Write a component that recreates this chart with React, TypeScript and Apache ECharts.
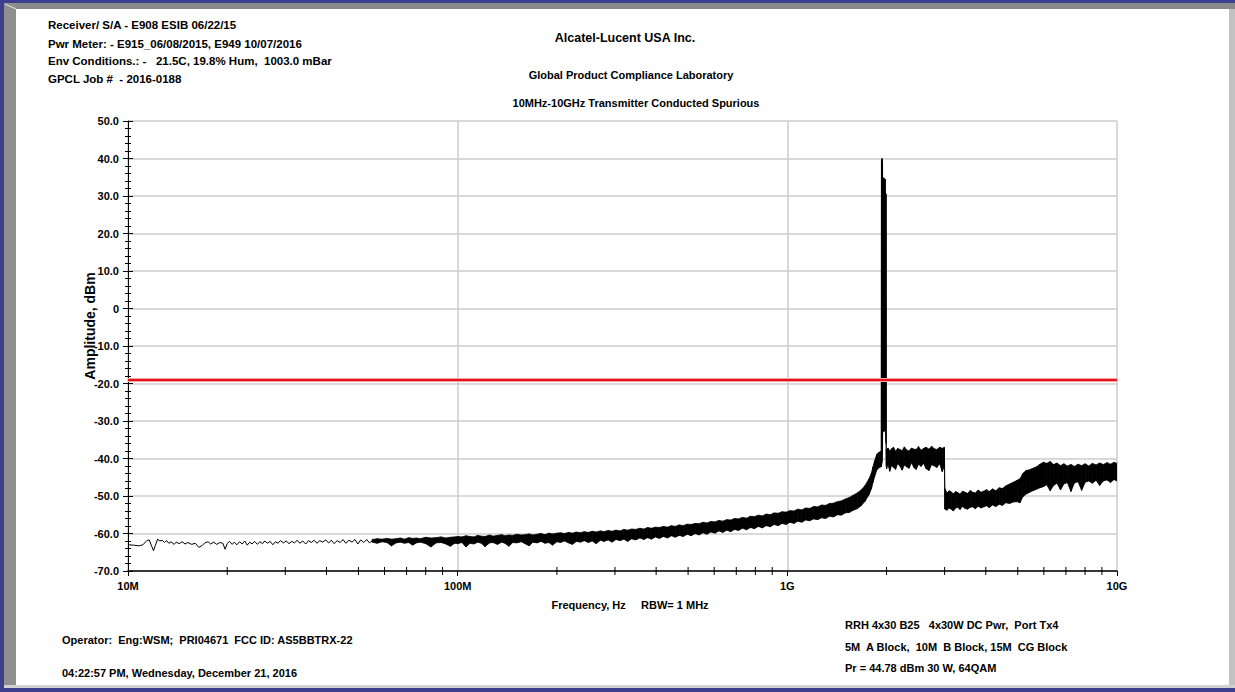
import React, { useEffect, useRef } from "react";
import * as echarts from "echarts";

const FONT = '"Liberation Sans Narrow", "Arial Narrow", "Liberation Sans", Arial, sans-serif';

// ---- axis ticks ----
const xTickValues = [1e7, 1e8, 1e9, 1e10];
const xTickLabels = ["10M", "100M", "1G", "10G"];
const xMinorTicksMHz = [
  20, 30, 40, 50, 60, 70, 80, 90,
  200, 300, 400, 500, 600, 700, 800, 900,
  2000, 3000, 4000, 5000, 6000, 7000, 8000, 9000,
];
const yMin = -70;
const yMax = 50;
const yStep = 10;
const yTickLabels = [
  "-70.0", "-60.0", "-50.0", "-40.0", "-30.0", "-20.0", "-10.0",
  "0", "10.0", "20.0", "30.0", "40.0", "50.0",
];

// ---- limit line (dBm) ----
const limitLine = -19;

// ---- low frequency trace: [MHz, dBm] ----
const lowTrace: number[][] = [
  [10, -63.0], [10.4, -63.1], [10.8, -63.3], [11.1, -63.0], [11.4, -61.9], [11.6, -61.7],
  [11.8, -63.4], [11.95, -64.6], [12.1, -63.2], [12.3, -61.5], [12.5, -62.0], [12.7, -61.8],
  [12.9, -62.4], [13.1, -61.9], [13.3, -62.6], [13.5, -62.2], [13.8, -62.9], [14.0, -62.3],
  [14.3, -62.7], [14.6, -62.2], [14.9, -62.8], [15.2, -62.4], [15.6, -62.9], [16.0, -62.6],
  [16.4, -63.7], [16.8, -63.2], [17.1, -62.5], [17.5, -62.2], [17.8, -62.8], [18.2, -62.3],
  [18.6, -62.9], [19.0, -62.4], [19.4, -62.6], [19.7, -64.2], [20.0, -62.7], [20.3, -62.1],
  [20.7, -62.9], [21.0, -62.3], [21.4, -63.0], [21.8, -62.2], [22.2, -62.8], [22.6, -62.0],
  [23.0, -63.1], [23.4, -62.3], [23.8, -62.8], [24.2, -62.1], [24.7, -62.9], [25.1, -62.2],
  [25.6, -62.7], [26.0, -62.0], [26.5, -62.6], [27.0, -62.1], [27.5, -63.0], [28.0, -62.2],
  [28.5, -62.6], [29.0, -61.9], [29.6, -62.5], [30.2, -62.0], [30.8, -62.7], [31.4, -62.1],
  [32.0, -62.5], [32.6, -61.8], [33.2, -62.6], [33.9, -62.0], [34.6, -62.8], [35.3, -61.9],
  [36.0, -62.4], [36.7, -61.8], [37.4, -62.6], [38.2, -61.9], [39.0, -62.3], [39.8, -61.7],
  [40.6, -62.5], [41.4, -61.8], [42.2, -62.7], [43.1, -61.9], [44.0, -62.4], [44.9, -61.6],
  [45.8, -62.6], [46.8, -61.8], [47.8, -62.3], [48.8, -61.6], [49.8, -62.8], [50.8, -61.7],
  [51.9, -62.4], [53.0, -61.6], [54.0, -62.5], [55.0, -62.0],
];

// ---- noise band envelope: [MHz, low dBm, high dBm] ----
const bandRows: number[][] = [
  [55, -62.3, -61.6], [57, -62.6, -61.4], [59, -62.2, -61.5], [61, -62.4, -61.3], [63, -63.3, -61.5],
  [65, -62.5, -61.4], [67, -62.3, -61.2], [69, -62.6, -61.5], [71, -62.4, -61.1], [73, -63.1, -61.3],
  [75, -62.5, -61.2], [77, -62.3, -61.4], [80, -62.7, -61.0], [83, -63.6, -61.2], [86, -62.5, -61.1],
  [89, -62.4, -60.9], [92, -62.8, -61.2], [95, -63.4, -61.0], [98, -62.6, -60.9],
  [100, -62.7, -60.8], [103, -62.4, -60.9], [106, -63.6, -60.6], [109, -62.6, -60.8], [112, -62.8, -60.9],
  [115, -62.3, -60.5], [118, -62.6, -60.7], [121, -63.5, -60.8], [125, -62.5, -60.4], [128, -62.4, -60.7],
  [132, -62.9, -60.5], [136, -62.3, -60.3], [139, -62.6, -60.6], [143, -63.4, -60.4], [147, -62.4, -60.5],
  [151, -62.5, -60.2], [156, -62.2, -60.4], [160, -62.7, -60.3], [165, -63.3, -60.1], [169, -62.3, -60.4],
  [174, -62.5, -60.2], [179, -62.1, -60.0], [184, -62.6, -60.3], [189, -62.4, -59.9], [194, -63.1, -60.1],
  [200, -62.2, -59.9], [205, -62.4, -59.8], [211, -62.0, -60.0], [217, -62.5, -59.7], [223, -62.9, -59.9],
  [229, -62.1, -59.6], [236, -62.3, -59.8], [242, -61.9, -59.5], [249, -62.4, -59.7], [256, -62.0, -59.4],
  [263, -62.7, -59.6], [271, -61.8, -59.3], [278, -62.1, -59.5], [286, -61.7, -59.2], [294, -62.3, -59.4],
  [302, -61.6, -59.1], [311, -61.9, -59.3], [319, -61.5, -58.9], [328, -62.1, -59.1], [337, -61.4, -58.8],
  [347, -61.7, -58.9], [357, -61.2, -58.6], [367, -61.6, -58.8], [377, -61.1, -58.4], [387, -61.5, -58.6],
  [398, -60.9, -58.3], [409, -61.3, -58.4], [421, -60.8, -58.1], [433, -61.2, -58.3], [445, -60.6, -57.9],
  [457, -61.0, -58.1], [470, -60.5, -57.7], [483, -60.8, -57.9], [497, -60.2, -57.5], [511, -60.6, -57.6],
  [525, -60.0, -57.3], [540, -60.4, -57.4], [555, -59.8, -57.0], [570, -60.2, -57.2], [586, -59.6, -56.8],
  [603, -59.9, -56.9], [620, -59.3, -56.5], [637, -59.7, -56.7], [655, -59.1, -56.3], [673, -59.5, -56.4],
  [692, -58.9, -56.0], [711, -59.2, -56.1], [731, -58.6, -55.7], [752, -59.0, -55.9], [773, -58.4, -55.4],
  [794, -58.7, -55.5], [817, -58.1, -55.1], [840, -58.5, -55.3], [863, -57.9, -54.8], [887, -58.2, -55.0],
  [912, -57.6, -54.5], [938, -57.9, -54.6], [964, -57.3, -54.2], [991, -57.6, -54.3], [1019, -57.0, -53.9],
  [1047, -57.3, -54.0], [1076, -56.7, -53.5], [1106, -57.0, -53.7], [1137, -56.4, -53.2], [1169, -56.6, -53.3],
  [1202, -56.1, -52.8], [1236, -56.3, -52.9], [1270, -55.8, -52.4], [1306, -56.0, -52.5], [1342, -55.4, -52.0],
  [1380, -55.6, -51.9], [1419, -55.0, -51.5], [1458, -55.1, -51.3], [1499, -54.5, -50.8], [1541, -54.4, -50.4],
  [1584, -53.8, -49.8], [1629, -53.4, -49.2], [1674, -52.6, -48.4], [1721, -51.4, -47.2], [1770, -49.6, -45.4],
  [1800, -48.0, -43.8], [1819, -46.4, -42.2], [1840, -44.8, -40.6], [1870, -43.0, -38.8], [1900, -42.4, -38.3],
  [1926, -42.2, -38.0],
  [1930, -42.0, 39.5], [1938, -41.0, 40.0], [1944, -38.0, 39.0], [1946, -33.0, 35.0], [1980, -32.5, 34.5],
  [1984, -33.0, 31.0], [1993, -36.0, 30.5], [1996, -42.0, -37.5],
  [2000, -42.8, -37.8], [2020, -41.6, -37.2], [2045, -43.4, -38.0], [2070, -41.9, -37.4], [2100, -42.3, -37.0],
  [2130, -42.9, -38.1], [2160, -41.4, -37.3], [2195, -42.0, -37.6], [2230, -43.1, -37.9], [2265, -41.7, -36.9],
  [2300, -42.2, -37.7], [2340, -42.6, -38.0], [2380, -41.1, -37.2], [2420, -42.4, -37.5], [2460, -42.9, -37.6],
  [2500, -41.5, -36.8], [2545, -42.1, -37.8], [2590, -41.3, -37.3], [2635, -42.7, -37.0], [2690, -43.2, -37.5],
  [2740, -41.6, -36.7], [2790, -42.0, -37.4], [2840, -42.4, -37.6], [2900, -41.4, -37.0], [2950, -43.5, -37.3],
  [2995, -42.0, -37.0],
  [3005, -53.5, -48.0], [3050, -53.8, -49.2], [3095, -53.2, -48.6], [3140, -53.5, -48.9], [3190, -54.0, -49.4],
  [3240, -53.2, -48.8], [3290, -53.0, -49.1], [3340, -53.6, -49.5], [3400, -52.8, -48.7], [3460, -53.3, -49.0],
  [3520, -53.5, -49.3], [3590, -53.0, -48.5], [3650, -52.9, -49.0], [3720, -53.4, -49.2], [3790, -52.7, -48.4],
  [3870, -53.2, -49.0], [3940, -52.9, -48.7], [4020, -52.6, -48.3], [4100, -53.1, -48.8], [4190, -52.4, -48.1],
  [4290, -52.8, -48.6], [4390, -52.2, -47.8], [4490, -52.5, -48.0], [4600, -51.8, -47.3], [4720, -52.0, -46.8],
  [4850, -51.6, -46.3], [4980, -51.5, -45.8], [5080, -51.8, -45.4], [5180, -50.2, -44.0], [5300, -49.5, -43.2],
  [5430, -49.0, -43.0], [5560, -48.6, -42.6], [5700, -48.2, -42.2], [5840, -47.8, -41.5], [5980, -47.5, -41.0],
  [6120, -47.0, -41.3], [6270, -48.6, -40.8], [6420, -47.2, -41.6], [6580, -46.6, -41.2], [6740, -48.4, -41.9],
  [6900, -46.8, -41.4], [7070, -46.4, -42.0], [7250, -48.8, -41.6], [7430, -46.5, -42.1], [7620, -46.2, -41.5],
  [7810, -48.5, -41.9], [8010, -46.3, -41.4], [8210, -46.0, -42.0], [8420, -46.6, -41.3], [8640, -45.8, -41.7],
  [8860, -47.2, -41.2], [9090, -46.0, -41.6], [9320, -45.7, -41.1], [9560, -46.4, -41.5], [9800, -45.6, -41.0],
  [10000, -46.0, -41.3],
];

// ---- texts ----
const headerLines = [
  "Receiver/ S/A - E908 ESIB 06/22/15",
  "Pwr Meter: - E915_06/08/2015, E949 10/07/2016",
  "Env Conditions.: -   21.5C, 19.8% Hum,  1003.0 mBar",
  "GPCL Job #  - 2016-0188",
];
const titleLines = [
  "Alcatel-Lucent USA Inc.",
  "Global Product Compliance Laboratory",
  "10MHz-10GHz Transmitter Conducted Spurious",
];
const yAxisTitle = "Amplitude, dBm";
const xAxisTitle = "Frequency, Hz     RBW= 1 MHz";
const footerLeft = [
  "Operator:  Eng:WSM;  PRI04671  FCC ID: AS5BBTRX-22",
  "04:22:57 PM, Wednesday, December 21, 2016",
];
const footerRight = [
  "RRH 4x30 B25   4x30W DC Pwr,  Port Tx4",
  "5M  A Block,  10M  B Block, 15M  CG Block",
  "Pr = 44.78 dBm 30 W, 64QAM",
];

const txt = (x: number, y: number, text: string, size: number, align = "left") => ({
  type: "text",
  x,
  y,
  silent: true,
  style: {
    text,
    fontSize: size,
    fontWeight: "bold",
    fontFamily: FONT,
    fill: "#000",
    align,
    textAlign: align,
    verticalAlign: "middle",
    textVerticalAlign: "middle",
  },
});

export default function App() {
  const ref = useRef<HTMLDivElement>(null);
  useEffect(() => {
    document.body.style.margin = "0";
    if (!ref.current) return;
    const chart = echarts.init(ref.current, null, { renderer: "svg" });

    const axisLabelFont = { fontSize: 11, fontWeight: "bold", fontFamily: FONT, color: "#000" };
    const gridColor = "#cccccc";

    const option: any = {
      animation: false,
      backgroundColor: "#ffffff",
      grid: { left: 128, top: 121, width: 989, height: 450, containLabel: false },
      xAxis: [
        {
          type: "log",
          logBase: 10,
          min: 1e7,
          max: 1e10,
          axisLine: { show: true, onZero: false, lineStyle: { color: "#000", width: 1.5 } },
          axisTick: { show: true, length: 5, lineStyle: { color: "#000", width: 1 } },
          axisLabel: {
            ...axisLabelFont,
            margin: 9,
            formatter: (v: number) => {
              const i = xTickValues.findIndex((t) => Math.abs(Math.log10(t) - Math.log10(v)) < 1e-6);
              return i >= 0 ? xTickLabels[i] : "";
            },
          },
          splitLine: { show: true, lineStyle: { color: gridColor, width: 1.5 } },
        },
      ],
      yAxis: [
        {
          type: "value",
          min: yMin,
          max: yMax,
          interval: yStep,
          axisLine: { show: true, onZero: false, lineStyle: { color: "#000", width: 1 } },
          axisTick: { show: true, length: 5, lineStyle: { color: "#000", width: 1 } },
          minorTick: { show: true, splitNumber: 5, length: 3, lineStyle: { color: "#000", width: 1 } },
          axisLabel: {
            ...axisLabelFont,
            margin: 9,
            formatter: (v: number) => yTickLabels[Math.round((v - yMin) / yStep)] ?? "",
          },
          splitLine: { show: true, lineStyle: { color: gridColor, width: 1.5 } },
        },
        {
          type: "value",
          min: yMin,
          max: yMax,
          interval: yStep,
          position: "left",
          axisLine: { show: false },
          axisTick: { show: true, inside: true, length: 5, lineStyle: { color: "#000", width: 1 } },
          minorTick: { show: true, splitNumber: 5, length: 3, lineStyle: { color: "#000", width: 1 } },
          axisLabel: { show: false },
          splitLine: { show: false },
        },
      ],
      series: [
        {
          type: "line",
          name: "trace",
          data: lowTrace.map((p) => [p[0] * 1e6, p[1]]),
          showSymbol: false,
          symbol: "none",
          lineStyle: { color: "#000", width: 1 },
          silent: true,
          z: 2,
          markLine: {
            silent: true,
            symbol: ["none", "none"],
            label: { show: false },
            data: [
              { yAxis: limitLine, lineStyle: { color: "#f3a3a3", width: 4, type: "solid" } },
              { yAxis: limitLine, lineStyle: { color: "#e8101a", width: 2, type: "solid" } },
            ],
          },
        },
        {
          type: "custom",
          name: "band",
          silent: true,
          z: 3,
          clip: true,
          data: bandRows.map((r) => [r[0] * 1e6, r[1], r[2]]),
          encode: { x: 0, y: [1, 2] },
          renderItem: (params: any, api: any) => {
            const i = params.dataIndex;
            if (i >= bandRows.length - 1) return null;
            const a = bandRows[i];
            const b = bandRows[i + 1];
            const p1 = api.coord([a[0] * 1e6, a[2]]);
            const p2 = api.coord([b[0] * 1e6, b[2]]);
            const p3 = api.coord([b[0] * 1e6, b[1]]);
            const p4 = api.coord([a[0] * 1e6, a[1]]);
            return {
              type: "polygon",
              shape: { points: [p1, p2, p3, p4] },
              style: { fill: "#000", stroke: "#000", lineWidth: 0.8 },
            };
          },
        },
        {
          type: "custom",
          name: "minorTicks",
          silent: true,
          z: 4,
          clip: false,
          data: xMinorTicksMHz.map((f) => [f * 1e6, yMin]),
          encode: { x: 0, y: 1 },
          renderItem: (params: any, api: any) => {
            const p = api.coord([api.value(0), yMin]);
            return {
              type: "line",
              shape: { x1: p[0], y1: p[1] - 4, x2: p[0], y2: p[1] + 4 },
              style: { stroke: "#000", lineWidth: 1 },
            };
          },
        },
      ],
      graphic: [
        // frame
        { type: "rect", silent: true, shape: { x: 0, y: 0, width: 1235, height: 3 }, style: { fill: "#3d3f8e" } },
        { type: "rect", silent: true, shape: { x: 0, y: 0, width: 4, height: 692 }, style: { fill: "#3d3f8e" } },
        { type: "rect", silent: true, shape: { x: 0, y: 688, width: 1235, height: 4 }, style: { fill: "#3d3f8e" } },
        { type: "rect", silent: true, shape: { x: 4, y: 3, width: 1231, height: 6 }, style: { fill: "#8a8a8a" } },
        { type: "rect", silent: true, shape: { x: 4, y: 3, width: 12, height: 683 }, style: { fill: "#8f8f8f" } },
        { type: "rect", silent: true, shape: { x: 1229, y: 9, width: 6, height: 677 }, style: { fill: "#c2c2c2" } },
        { type: "rect", silent: true, shape: { x: 4, y: 685, width: 1231, height: 3 }, style: { fill: "#d2d2d2" } },
        { type: "line", silent: true, shape: { x1: 5, y1: 4, x2: 16, y2: 9 }, style: { stroke: "#e6e6e6", lineWidth: 1 } },
        // header
        ...headerLines.map((t, i) => txt(48, [25, 43.5, 61, 79][i], t, 11.5)),
        txt(625, 38, titleLines[0], 12.5, "center"),
        txt(631, 75, titleLines[1], 11, "center"),
        txt(636, 103, titleLines[2], 11, "center"),
        // axis titles
        {
          ...txt(90, 326, yAxisTitle, 14, "center"),
          rotation: Math.PI / 2,
        },
        txt(630, 605, xAxisTitle, 11, "center"),
        // footers
        txt(62, 640, footerLeft[0], 11),
        txt(62, 673, footerLeft[1], 11),
        txt(845, 625, footerRight[0], 11),
        txt(845, 647, footerRight[1], 11),
        txt(845, 668, footerRight[2], 11),
      ],
    };
    chart.setOption(option);
    return () => chart.dispose();
  }, []);
  return <div ref={ref} style={{ width: 1235, height: 692 }} />;
}
